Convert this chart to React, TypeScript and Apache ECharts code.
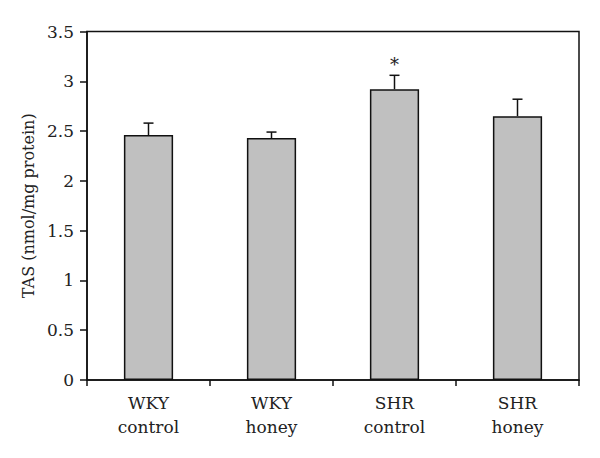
import React, { useEffect, useRef } from "react";
import * as echarts from "echarts";

const categories = ["WKY\ncontrol", "WKY\nhoney", "SHR\ncontrol", "SHR\nhoney"];
const means = [2.46, 2.43, 2.92, 2.65];
const errors = [0.12, 0.06, 0.14, 0.17];
const significance = ["", "", "*", ""];
const yTitle = "TAS (nmol/mg protein)";

const FONT = "'DejaVu Serif', 'Liberation Serif', serif";

export default function App() {
  const ref = useRef<HTMLDivElement>(null);
  useEffect(() => {
    if (!ref.current) return;
    const chart = echarts.init(ref.current, undefined, { renderer: "svg" });
    const errData = means.map((m, i) => [i, m, m + errors[i]]);
    chart.setOption({
      animation: false,
      backgroundColor: "#ffffff",
      grid: {
        left: 87,
        right: 21,
        top: 31.5,
        bottom: 78,
        show: true,
        borderColor: "#111",
        borderWidth: 1.5,
        backgroundColor: "transparent",
      },
      xAxis: {
        type: "category",
        data: categories,
        axisLine: { lineStyle: { color: "#111", width: 1.5 } },
        axisTick: { show: true, length: 6, alignWithLabel: false, lineStyle: { color: "#111", width: 1.5 } },
        axisLabel: {
          color: "#222",
          fontFamily: FONT,
          fontSize: 17,
          lineHeight: 24,
          margin: 11,
        },
      },
      yAxis: {
        type: "value",
        min: 0,
        max: 3.5,
        interval: 0.5,
        name: yTitle,
        nameLocation: "middle",
        nameGap: 51,
        nameTextStyle: { color: "#222", fontFamily: FONT, fontSize: 16 },
        splitLine: { show: false },
        axisLine: { show: true, lineStyle: { color: "#111", width: 1.5 } },
        axisTick: { show: true, length: 7, lineStyle: { color: "#111", width: 1.5 } },
        axisLabel: { color: "#222", fontFamily: FONT, fontSize: 17, margin: 13 },
      },
      series: [
        {
          type: "bar",
          data: means,
          barWidth: "40%",
          itemStyle: { color: "#c0c0c0", borderColor: "#111", borderWidth: 1.5 },
          z: 2,
        },
        {
          type: "custom",
          data: errData,
          z: 3,
          renderItem: (params: any, api: any) => {
            const idx = api.value(0);
            const base = api.coord([idx, api.value(1)]);
            const top = api.coord([idx, api.value(2)]);
            const cap = 5;
            const children: any[] = [
              { type: "line", shape: { x1: base[0], y1: base[1], x2: top[0], y2: top[1] }, style: { stroke: "#111", lineWidth: 1.5 } },
              { type: "line", shape: { x1: top[0] - cap, y1: top[1], x2: top[0] + cap, y2: top[1] }, style: { stroke: "#111", lineWidth: 1.5 } },
            ];
            const sig = significance[params.dataIndex];
            if (sig) {
              children.push({
                type: "text",
                x: top[0],
                y: top[1] - 2,
                style: { text: sig, fill: "#222", font: `18px ${FONT}`, align: "center", verticalAlign: "bottom" },
              });
            }
            return { type: "group", children };
          },
        },
      ],
    });
    return () => chart.dispose();
  }, []);
  return <div ref={ref} style={{ width: 600, height: 458, position: "absolute", left: 0, top: 0 }} />;
}
